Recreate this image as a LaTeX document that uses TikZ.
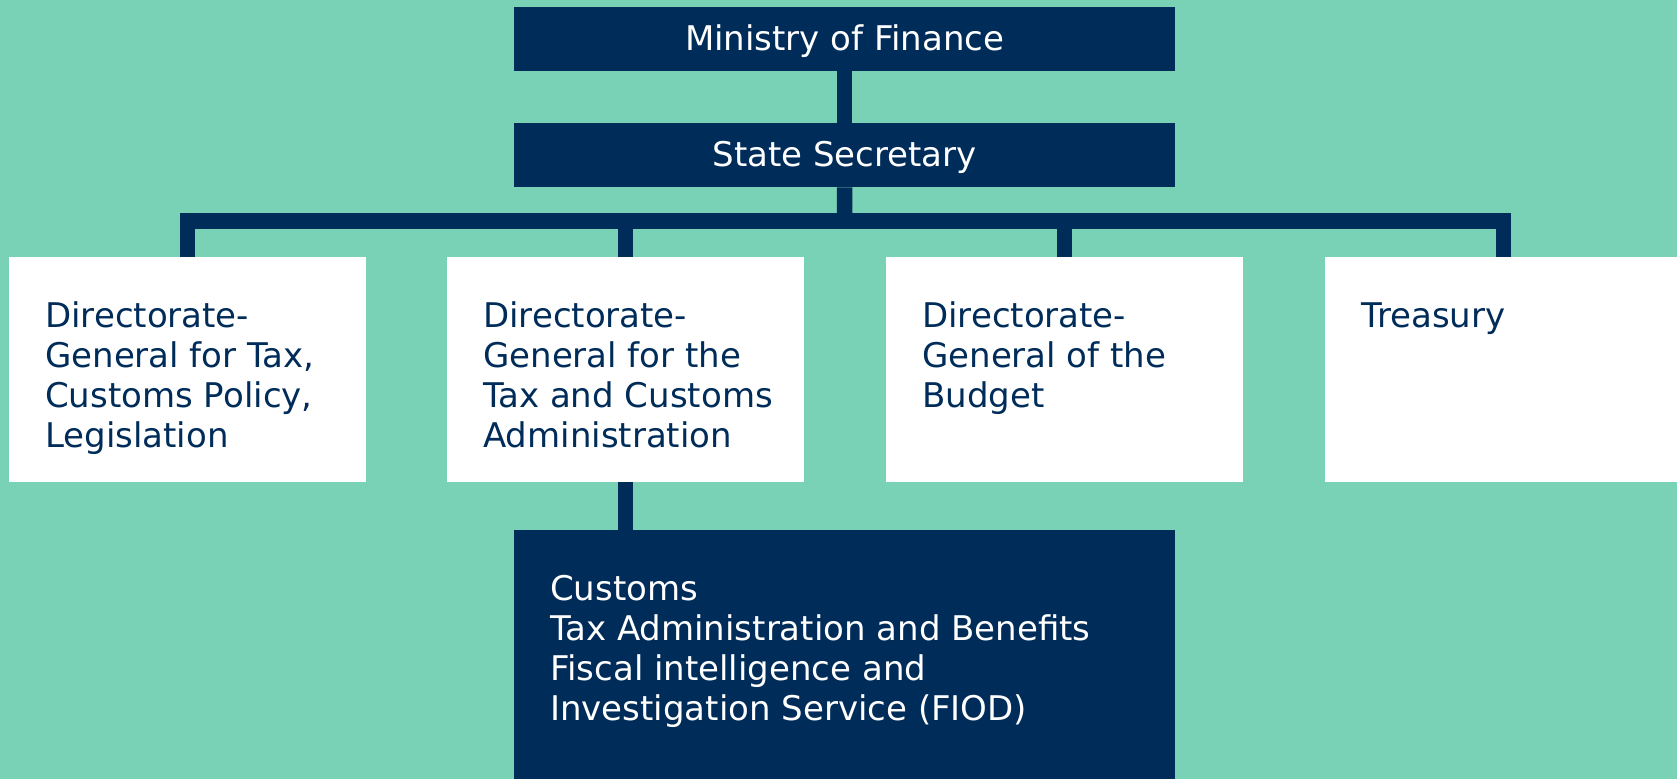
\documentclass[tikz,border=0pt]{standalone}
\usepackage{fontspec}
\setmainfont{DejaVu Sans}
\definecolor{mint}{RGB}{121,210,182}
\definecolor{navyblue}{RGB}{0,44,90}
\newcommand{\orgtext}[3]{\hspace*{36pt}\parbox[c][#2][t]{#1}{\raggedright\vspace*{42pt}\strut #3}}
\begin{document}
\begin{tikzpicture}[x=1pt,y=1pt,
  darkbox/.style={rectangle, fill=navyblue, text=white, inner sep=0pt, anchor=north west,
    font=\fontsize{34}{40}\selectfont},
  whitebox/.style={rectangle, fill=white, text=navyblue, inner sep=0pt, anchor=north west,
    minimum width=357pt, minimum height=225pt, font=\fontsize{34}{40}\selectfont},
  headbox/.style={darkbox, minimum width=661pt, minimum height=64pt, text height=31pt, text depth=9pt},
  conn/.style={draw=navyblue, line width=15.5pt}]
\path[use as bounding box, fill=mint] (0,0) rectangle (1677,-779);
\node[headbox] (min) at (514,-7) {Ministry of Finance};
\node[headbox] (ss) at (514,-123) {State Secretary};
\node[whitebox] (d1) at (9,-257) {\orgtext{321pt}{225pt}{Directorate-\\General for Tax,\\Customs Policy,\\Legislation}};
\node[whitebox] (d2) at (447,-257) {\orgtext{321pt}{225pt}{Directorate-\\General for the\\Tax and Customs\\Administration}};
\node[whitebox] (d3) at (886,-257) {\orgtext{321pt}{225pt}{Directorate-\\General of the\\Budget}};
\node[whitebox] (d4) at (1325,-257) {\orgtext{321pt}{225pt}{Treasury}};
\node[darkbox, minimum width=661pt, minimum height=249pt] (fiod) at (514,-530)
  {\orgtext{625pt}{249pt}{Customs\\Tax Administration and Benefits\\Fiscal intelligence and\\Investigation Service (FIOD)}};
\coordinate (hub) at (844.5,-221);
\draw[conn] (min.south) -- (ss.north);
\draw[conn] (ss.south) -- (hub);
\draw[conn, line cap=rect] (d1.north |- hub) -- (d4.north |- hub);
\foreach \n in {d1,d2,d3,d4} \draw[conn] (\n.north) -- (\n.north |- hub);
\draw[conn] (d2.south) -- (d2.south |- fiod.north);
\end{tikzpicture}
\end{document}
